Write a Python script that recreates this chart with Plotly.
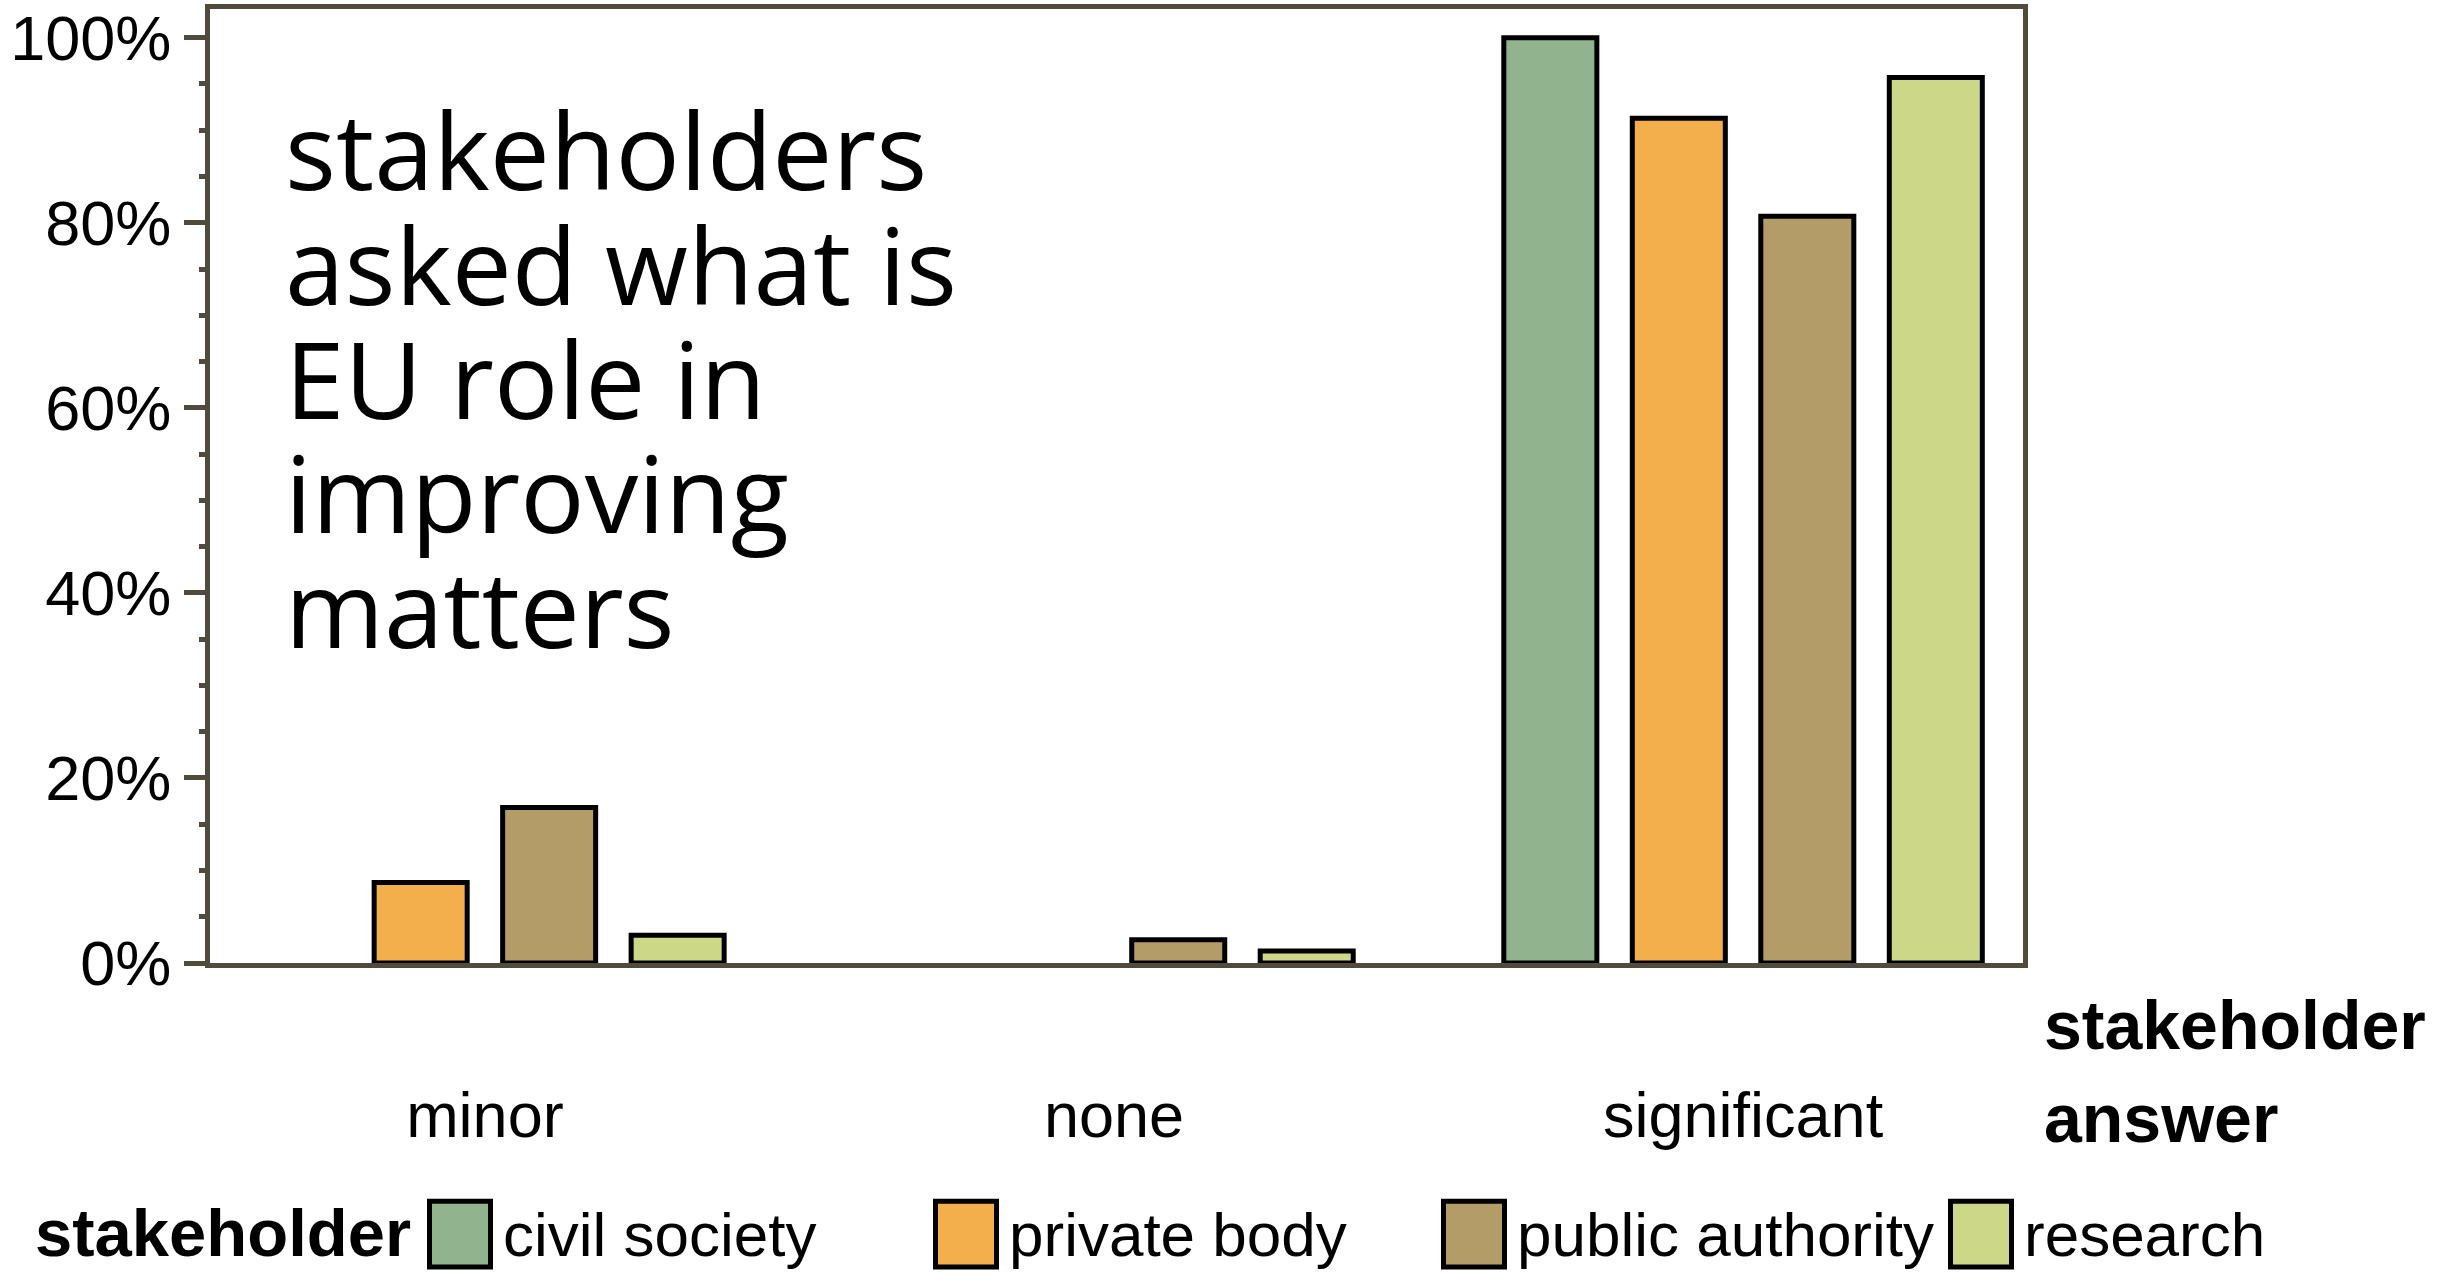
import plotly.graph_objects as go

# ---- data ----
answers = ["minor", "none", "significant"]
stakeholders = ["civil society", "private body", "public authority", "research"]
civil_society = [0.0, 0.0, 100.0]
private_body = [8.7, 0.0, 91.3]
public_authority = [16.8, 2.5, 80.7]
research = [3.0, 1.3, 95.7]
y_tick_values = [0, 20, 40, 60, 80, 100]
y_tick_labels = ["0%", "20%", "40%", "60%", "80%", "100%"]
title_lines = ["stakeholders", "asked what is", "EU role in", "improving", "matters"]

series = [civil_society, private_body, public_authority, research]
colors = ["#91B48F", "#F2AF4B", "#B49C69", "#CCD888"]
frame_color = "#514B3D"

W, H = 2458, 1272
PL, PR, PT, PB = 210, 2023, 4, 963


def px_x(x):
    return (x - PL) / (PR - PL)


def px_y(y):
    return (PB - y) / (PB - PT)


fig = go.Figure()
for name, vals, col in zip(stakeholders, series, colors):
    fig.add_trace(go.Bar(
        x=answers, y=vals, name=name,
        marker=dict(color=col, line=dict(color="black", width=[5 if v > 0 else 0 for v in vals])),
    ))

AX = "Liberation Sans, Arial, sans-serif"
annotations = []

# big text block
TF = 107
for i, line in enumerate(title_lines):
    base = 186 + i * 115
    annotations.append(dict(
        text=line, xref="paper", yref="paper", x=px_x(283), y=px_y(base - 0.388 * TF),
        xanchor="left", yanchor="middle", showarrow=False,
        font=dict(family="Open Sans, sans-serif", size=TF, color="black"),
    ))

# nested axis titles on right
for txt, base in [("stakeholder", 1049), ("answer", 1142)]:
    annotations.append(dict(
        text="<b>%s</b>" % txt, xref="paper", yref="paper", x=px_x(2042), y=px_y(base - 0.3465 * 68),
        xanchor="left", yanchor="middle", showarrow=False,
        font=dict(family=AX, size=68, color="black"),
    ))

# legend (drawn manually)
annotations.append(dict(
    text="<b>stakeholder</b>", xref="paper", yref="paper", x=px_x(33), y=px_y(1257 - 0.3465 * 67),
    xanchor="left", yanchor="middle", showarrow=False,
    font=dict(family=AX, size=67, color="black"),
))
shapes = []
sw_x = [429, 935, 1443, 1950]
for sx, name, col in zip(sw_x, stakeholders, colors):
    shapes.append(dict(
        type="rect", xref="paper", yref="paper",
        x0=px_x(sx + 0.5), x1=px_x(sx + 61.5), y0=px_y(1202.5), y1=px_y(1268.5),
        fillcolor=col, line=dict(color="black", width=5),
    ))
    annotations.append(dict(
        text=name, xref="paper", yref="paper", x=px_x(sx + 72), y=px_y(1257 - 0.3465 * 62),
        xanchor="left", yanchor="middle", showarrow=False,
        font=dict(family=AX, size=62, color="black"),
    ))

fig.update_layout(
    width=W, height=H, autosize=False,
    margin=dict(l=PL, r=W - PR, t=PT, b=H - PB, pad=0),
    paper_bgcolor="white", plot_bgcolor="white",
    barmode="group", bargap=0.183, bargroupgap=0.276,
    showlegend=False,
    font=dict(family=AX, size=63, color="black"),
    annotations=annotations, shapes=shapes,
)
fig.update_xaxes(
    type="category", range=[-0.437, 2.445],
    showline=True, mirror=True, linecolor=frame_color, linewidth=5,
    ticks="", showgrid=False, zeroline=False,
    tickfont=dict(family=AX, size=63, color="black"),
    ticklabelstandoff=93,
)
fig.update_yaxes(
    range=[0, 103.1], tickmode="array", tickvals=y_tick_values, ticktext=y_tick_labels,
    showline=True, mirror=True, linecolor=frame_color, linewidth=5,
    ticks="outside", ticklen=21, tickwidth=5, tickcolor=frame_color,
    minor=dict(dtick=5, ticks="outside", ticklen=6, tickwidth=5, tickcolor=frame_color, showgrid=False),
    showgrid=False, zeroline=False,
    tickfont=dict(family=AX, size=63, color="black"),
)

fig.write_html(
    "out.html",
    config={"displayModeBar": False},
    post_script="document.body.style.margin='0';document.body.style.padding='0';",
)
